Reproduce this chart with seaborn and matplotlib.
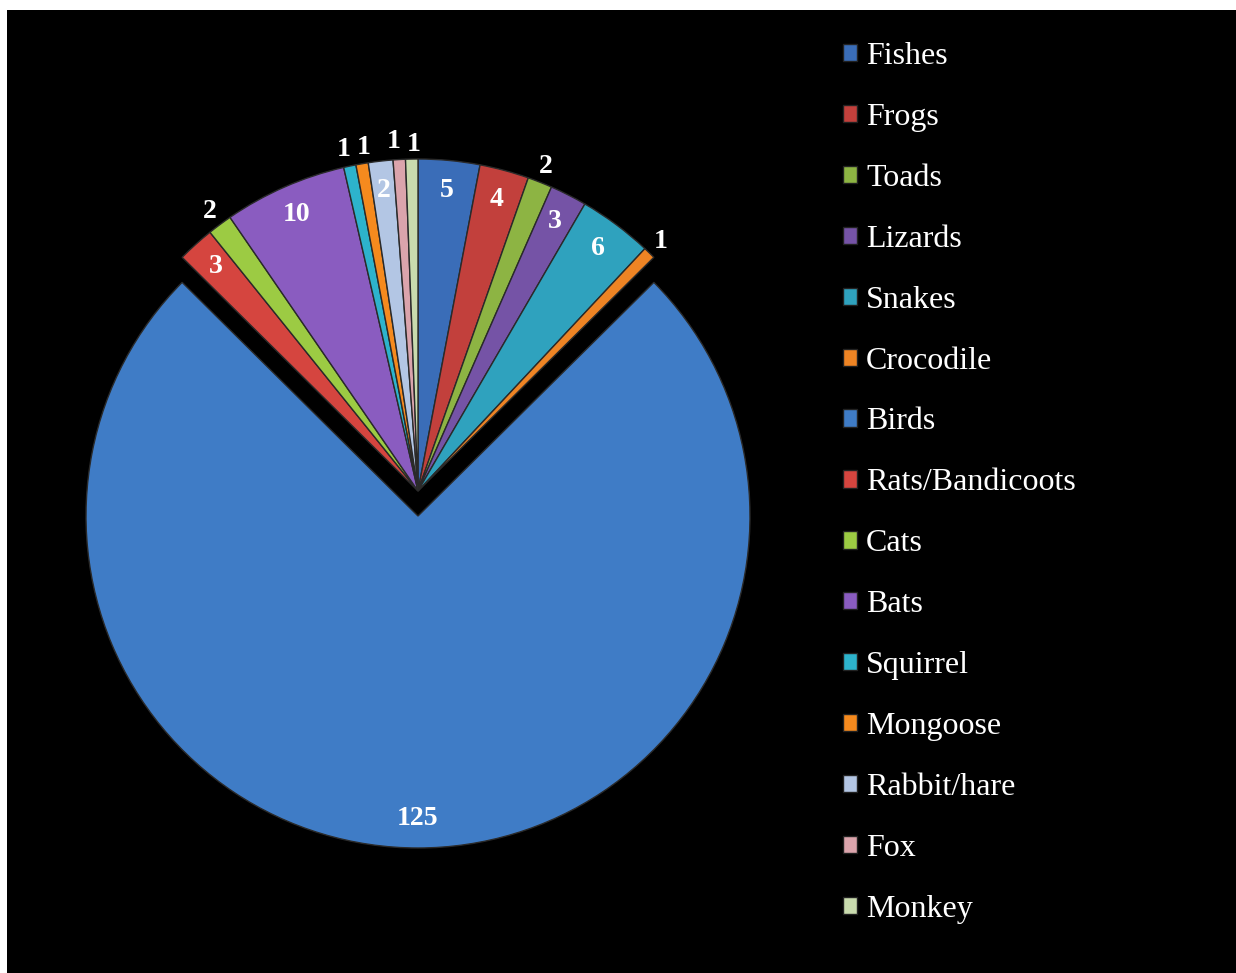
import matplotlib
matplotlib.use("Agg")
import matplotlib.pyplot as plt
import seaborn as sns
from matplotlib.patches import Rectangle
import numpy as np

categories = ["Fishes", "Frogs", "Toads", "Lizards", "Snakes", "Crocodile", "Birds",
              "Rats/Bandicoots", "Cats", "Bats", "Squirrel", "Mongoose", "Rabbit/hare",
              "Fox", "Monkey"]
values = [5, 4, 2, 3, 6, 1, 125, 3, 2, 10, 1, 1, 2, 1, 1]
colors = ["#3A6DB8", "#C2403C", "#8DB443", "#7553A6", "#2FA2BE", "#EE8424",
          "#3F7CC6", "#D5453F", "#9CCB43", "#8A5CC0", "#2DB3CC", "#F58A1E",
          "#B3C6E4", "#DBA4AC", "#C9DBAE"]
outside = {"Toads", "Crocodile", "Cats", "Squirrel", "Mongoose", "Fox", "Monkey"}
label_nudge = {"Squirrel": (-3, 0), "Mongoose": (4, 0), "Fox": (-5, 1), "Monkey": (2, -2)}

sns.set_theme(style="white")
plt.rcParams["font.family"] = ["Liberation Serif", "DejaVu Serif"]

W, H = 1236, 973
fig = plt.figure(figsize=(W / 100, H / 100), dpi=100)
fig.patch.set_facecolor("white")
ax = fig.add_axes([0, 0, 1, 1])
ax.set_xlim(0, W)
ax.set_ylim(0, H)
ax.axis("off")
ax.add_patch(Rectangle((7, 0), W - 7, H - 10, facecolor="black", edgecolor="none", zorder=0))

R = 332
cx, cy = 418, H - 491
explode = [25 if c == "Birds" else 0 for c in categories]
wedges, _ = ax.pie(values, colors=colors, startangle=90, counterclock=False,
                   radius=R, center=(cx, cy), explode=explode,
                   wedgeprops=dict(edgecolor="#2a2a2a", linewidth=1.0))
ax.set_xlim(0, W)
ax.set_ylim(0, H)
ax.set_aspect("equal")

for w, cat, v in zip(wedges, categories, values):
    mid = np.deg2rad((w.theta1 + w.theta2) / 2)
    wx, wy = w.center
    rr = 1.05 if cat in outside else 0.91
    dx, dy = label_nudge.get(cat, (0, 0))
    ax.text(wx + rr * R * np.cos(mid) + dx, wy + rr * R * np.sin(mid) + dy, str(v),
            ha="center", va="center", color="white", fontsize=20, fontweight="bold")

leg = ax.legend(wedges, categories, loc="upper left", bbox_to_anchor=(830 / W, 1 - 29 / H),
                frameon=False, fontsize=23, labelcolor="white", handlelength=0.45,
                handleheight=0.45, handletextpad=0.28, labelspacing=1.0,
                borderaxespad=0)
for h in leg.legend_handles:
    h.set_edgecolor("#222222")

fig.savefig("out.png", dpi=100, facecolor=fig.get_facecolor())
